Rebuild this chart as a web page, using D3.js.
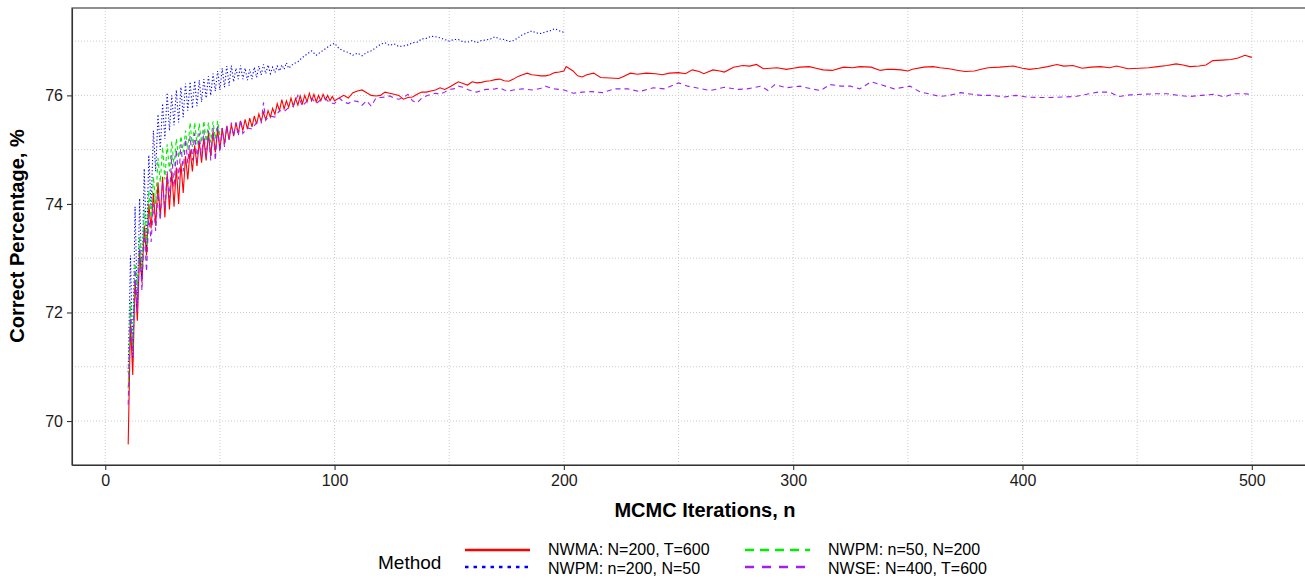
<!DOCTYPE html>
<html><head><meta charset="utf-8">
<script src="https://cdn.jsdelivr.net/npm/d3@7"></script>
<style>
body{margin:0;background:#fff}
svg{display:block}
text{font-family:"Liberation Sans",Arial,Helvetica,sans-serif}
</style></head>
<body><svg id="chart" width="1305" height="580"></svg>
<script>
// ---------- data ----------
const seriesNames = ["NWMA: N=200, T=600","NWPM: n=200, N=50","NWPM: n=50, N=200","NWSE: N=400, T=600"];
const xTicks = [0,100,200,300,400,500];
const yTicks = [70,72,74,76];

const redN = [10,11,12,13,14,15,16,17,18,19,20,21,22,23,24,25,26,27,28,29,30,31,32,33,34,35,36,37,38,39,40,41,42,43,44,45,46,47,48,49,50,51,52,53,54,55,56,57,58,59,60,61,62,63,64,65,66,67,68,69,70,71,72,73,74,75,76,77,78,79,80,81,82,83,84,85,86,87,88,89,90,91,92,93,94,95,96,97,98,99,100,
102,104,106,108,110,112,114,116,118,120,122,124,126,128,130,132,134,136,138,140,142,144,146,148,150,152,154,156,158,160,162,164,166,168,170,172,174,176,178,180,182,184,186,188,190,192,194,196,198,200,
201,204,206,208,210,213,216,220,224,226,229,232,236,240,243,246,250,253,256,259,261,265,268,270,274,278,281,284,287,290,293,297,300,303,307,310,313,317,322,326,329,334,338,341,344,347,350,352,357,361,364,368,372,375,379,382,385,390,396,400,403,407,411,415,418,422,426,430,434,438,441,446,451,455,459,463,467,470,473,477,480,483,487,491,494,497,500];
const redPct = [69.57,71.8,70.85,72.6,71.85,73.1,72.55,73.6,73.05,74.0,
73.55,74.2,73.6,74.4,73.75,74.5,73.75,74.55,73.9,74.6,
73.95,74.67,74.0,74.75,74.2,74.88,74.45,75.0,74.6,75.08,
74.7,75.15,74.76,75.22,74.8,75.3,74.88,75.33,74.95,75.37,
75.0,75.4,75.1,75.43,75.18,75.46,75.25,75.5,75.3,75.53,
75.35,75.56,75.38,75.58,75.42,75.62,75.47,75.66,75.52,75.69,
75.55,75.72,75.6,75.76,75.65,75.85,75.72,75.92,75.75,75.9,
75.78,75.95,75.8,75.94,75.82,75.99,75.85,76.0,75.88,76.04,
75.9,76.02,75.88,76.0,75.9,76.02,75.92,76.0,75.9,75.98,
75.9,
75.95,76.0,75.95,76.05,76.08,76.1,76.05,76.0,75.99,76.0,
76.06,76.04,76.02,76.0,75.93,75.96,75.97,76.02,76.06,76.06,
76.08,76.1,76.14,76.11,76.15,76.2,76.25,76.22,76.19,76.25,
76.23,76.24,76.26,76.27,76.29,76.3,76.27,76.26,76.3,76.35,
76.38,76.41,76.38,76.37,76.36,76.36,76.38,76.42,76.43,76.45,
76.53,76.45,76.36,76.34,76.38,76.41,76.33,76.32,76.31,76.35,76.41,76.39,76.41,76.4,76.38,76.41,76.42,76.4,76.47,76.44,76.4,76.47,76.45,76.43,76.52,76.55,76.54,76.57,76.49,76.5,76.51,76.48,76.5,76.52,76.53,76.5,76.47,76.46,76.52,76.51,76.53,76.52,76.46,76.48,76.48,76.47,76.45,76.48,76.52,76.53,76.51,76.49,76.46,76.44,76.45,76.48,76.51,76.52,76.54,76.5,76.48,76.5,76.53,76.57,76.54,76.55,76.5,76.52,76.53,76.51,76.54,76.49,76.5,76.51,76.53,76.55,76.58,76.56,76.53,76.54,76.56,76.64,76.65,76.66,76.69,76.74,76.7];

const blueN = [10,11,12,13,14,15,16,17,18,19,20,21,22,23,24,25,26,27,28,29,30,31,32,33,34,35,36,37,38,39,40,41,42,43,44,45,46,47,48,49,50,51,52,53,54,55,56,57,58,59,60,61,62,63,64,65,66,67,68,69,70,71,72,73,74,75,76,77,78,79,80,
82,84,86,88,90,92,94,96,98,100,102,104,106,108,110,112,114,116,118,120,122,124,126,128,130,132,134,136,138,140,142,144,146,148,150,152,154,156,158,160,162,164,166,168,170,172,174,176,178,180,182,184,186,188,190,192,194,196,198,200];
const bluePct = [70.9,73.05,71.15,73.95,72.1,74.1,72.6,74.65,73.2,74.9,
73.9,75.35,74.6,75.65,75.0,75.85,75.2,76.05,75.35,76.0,
75.45,76.1,75.5,76.15,75.6,76.22,75.72,76.25,75.76,76.27,
75.8,76.28,75.88,76.3,75.95,76.35,76.0,76.4,76.08,76.45,
76.1,76.5,76.15,76.54,76.18,76.55,76.25,76.5,76.3,76.55,
76.3,76.5,76.28,76.48,76.3,76.52,76.33,76.54,76.38,76.57,
76.4,76.56,76.4,76.52,76.42,76.54,76.45,76.56,76.48,76.6,
76.5,
76.58,76.62,76.7,76.76,76.82,76.74,76.8,76.86,76.92,76.96,
76.86,76.82,76.79,76.74,76.78,76.73,76.79,76.82,76.88,76.94,
76.97,76.92,76.95,76.9,76.91,76.93,76.97,76.98,77.04,77.05,
77.09,77.08,77.06,77.03,77.0,77.03,77.03,76.99,76.98,77.01,
76.97,77.01,77.02,77.04,77.08,77.04,77.03,76.99,77.01,77.06,
77.12,77.15,77.19,77.15,77.14,77.17,77.19,77.23,77.19,77.16];

const greenN = [10,11,12,13,14,15,16,17,18,19,20,21,22,23,24,25,26,27,28,29,30,31,32,33,34,35,36,37,38,39,40,41,42,43,44,45,46,47,48,49,50];
const greenPct = [70.6,72.2,71.3,72.9,72.5,73.4,72.8,73.9,73.25,74.25,
73.75,74.5,74.0,74.85,74.4,75.05,74.45,75.1,74.6,75.15,
74.7,75.2,74.85,75.25,74.95,75.35,75.0,75.5,75.05,75.5,
75.1,75.48,75.13,75.53,75.15,75.5,75.13,75.52,75.2,75.53,
75.25];

const purpleN = [10,11,12,13,14,15,16,17,18,19,20,21,22,23,24,25,26,27,28,29,30,31,32,33,34,35,36,37,38,39,40,41,42,43,44,45,46,47,48,49,50,51,52,53,54,55,56,57,58,59,60,
62,64,66,68,69,70,72,74,76,78,80,82,84,86,88,90,92,94,96,98,100,102,104,106,108,110,112,114,116,118,120,122,124,126,128,130,132,134,136,138,140,142,144,146,148,150,152,154,156,158,160,162,164,166,168,170,172,174,176,178,180,182,184,186,188,190,192,194,196,198,200,
204,208,212,217,222,228,233,239,244,250,254,260,264,270,276,280,286,289,292,297,303,308,312,316,321,325,329,334,338,344,351,355,360,364,368,373,378,382,387,392,397,402,407,412,418,423,428,433,438,442,447,452,458,463,468,473,478,484,488,492,496,500];
const purplePct = [70.3,72.0,71.2,72.8,72.0,73.2,72.4,73.5,72.75,73.8,
73.3,74.0,73.5,74.2,73.7,74.4,73.9,74.6,74.1,74.9,
74.3,75.0,74.45,75.1,74.6,75.2,74.75,75.25,74.8,75.3,
74.8,75.3,74.85,75.35,74.85,75.35,74.8,75.4,74.8,75.45,
74.95,75.4,75.05,75.45,75.2,75.5,75.25,75.5,75.25,75.55,
75.3,
75.4,75.38,75.5,75.48,75.87,75.55,75.62,75.6,75.72,75.7,75.78,75.8,76.0,75.8,75.9,75.95,75.85,75.92,75.94,75.86,75.85,
75.95,75.88,75.85,75.9,75.89,75.82,75.9,75.8,75.95,75.96,75.97,75.99,75.95,75.93,75.96,76.02,75.9,75.86,75.95,75.99,
76.02,76.04,76.02,76.06,76.11,76.12,76.17,76.15,76.11,76.08,76.06,76.09,76.11,76.11,76.12,76.14,76.1,76.08,76.1,76.11,
76.12,76.11,76.1,76.11,76.13,76.17,76.14,76.12,76.11,76.1,
76.04,76.06,76.07,76.05,76.12,76.12,76.07,76.14,76.12,76.23,76.17,76.12,76.09,76.15,76.11,76.12,76.17,76.09,76.2,76.14,76.17,76.12,76.09,76.2,76.17,76.17,76.12,76.25,76.2,76.12,76.17,76.07,76.02,75.98,76.0,76.05,76.02,76.0,76.0,75.97,76.0,75.97,75.96,75.96,75.97,75.98,76.02,76.06,76.06,75.98,76.01,76.02,76.03,76.03,76.0,75.98,76.0,76.02,75.97,76.03,76.03,76.02];

const colors = ["#FF0000","#0000FF","#00EE00","#A020F0"];

// ---------- chart ----------
const svg = d3.select("#chart");
const P = {l:72, t:8, r:1308, b:465};
const x = d3.scaleLinear().domain([-14.5,524.5]).range([P.l,P.r]);
const y = d3.scaleLinear().domain([69.19,77.61]).range([P.b,P.t]);

const grid = svg.append("g");
const xGrid = [0,50,100,150,200,250,300,350,400,450,500];
const yGrid = [70,71,72,73,74,75,76,77];
grid.selectAll("line.gx").data(xGrid).join("line")
  .attr("x1",d=>x(d)).attr("x2",d=>x(d)).attr("y1",P.t).attr("y2",P.b)
  .attr("stroke","#cccccc").attr("stroke-width",1).attr("stroke-dasharray","1,2");
grid.selectAll("line.gy").data(yGrid).join("line")
  .attr("y1",d=>y(d)).attr("y2",d=>y(d)).attr("x1",P.l).attr("x2",P.r)
  .attr("stroke","#cccccc").attr("stroke-width",1).attr("stroke-dasharray","1,2");

const series = [
  {n:redN, v:redPct, dash:null},
  {n:blueN, v:bluePct, dash:"1.2,2.2"},
  {n:greenN, v:greenPct, dash:"4,3"},
  {n:purpleN, v:purplePct, dash:"5,4"}
];
const line = d3.line().x(d=>x(d[0])).y(d=>y(d[1]));
series.forEach((s,i)=>{
  const pts = s.n.map((nn,j)=>[nn,s.v[j]]);
  svg.append("path").datum(pts).attr("d",line)
    .attr("fill","none").attr("stroke",colors[i]).attr("stroke-width",1.1)
    .attr("stroke-dasharray",s.dash);
});

// panel border
svg.append("rect").attr("x",P.l).attr("y",P.t).attr("width",P.r-P.l).attr("height",P.b-P.t)
  .attr("fill","none").attr("stroke","#333").attr("stroke-width",1.1);

// axes
const xAxis = svg.append("g").attr("transform",`translate(0,${P.b})`)
  .call(d3.axisBottom(x).tickValues(xTicks).tickSize(5).tickSizeOuter(0).tickPadding(5).tickFormat(d3.format("d")));
const yAxis = svg.append("g").attr("transform",`translate(${P.l},0)`)
  .call(d3.axisLeft(y).tickValues(yTicks).tickSize(5).tickSizeOuter(0).tickPadding(4).tickFormat(d3.format("d")));
[xAxis,yAxis].forEach(a=>{
  a.select(".domain").attr("stroke","#333").attr("stroke-width",1.1);
  a.selectAll(".tick line").attr("stroke","#333").attr("stroke-width",1.1);
  a.selectAll(".tick text").attr("fill","#1a1a1a").style("font-size","16px")
   .style("font-family","'Liberation Sans',Arial,sans-serif");
});

// titles
svg.append("text").attr("x",705).attr("y",517).attr("text-anchor","middle")
  .style("font-size","20px").style("font-weight","bold").text("MCMC Iterations, n");
svg.append("text").attr("transform","translate(24,236) rotate(-90)").attr("text-anchor","middle")
  .style("font-size","20px").style("font-weight","bold").text("Correct Percentage, %");

// legend
const lg = svg.append("g");
lg.append("text").attr("x",378).attr("y",569).style("font-size","19px").text("Method");
const legPos = [
  {kx:465, ky:550, tx:548},
  {kx:465, ky:567, tx:548},
  {kx:745, ky:550, tx:828},
  {kx:745, ky:567, tx:828}
];
const legDash = [null,"3.5,5","9,6","9,8"];
seriesNames.forEach((name,i)=>{
  const p = legPos[i];
  lg.append("line").attr("x1",p.kx).attr("x2",p.kx+65).attr("y1",p.ky).attr("y2",p.ky)
    .attr("stroke",colors[i]).attr("stroke-width",2.6).attr("stroke-dasharray",legDash[i]);
  lg.append("text").attr("x",p.tx).attr("y",p.ky+(i%2===0?5:7)).style("font-size","16px").text(name);
});
</script></body></html>
